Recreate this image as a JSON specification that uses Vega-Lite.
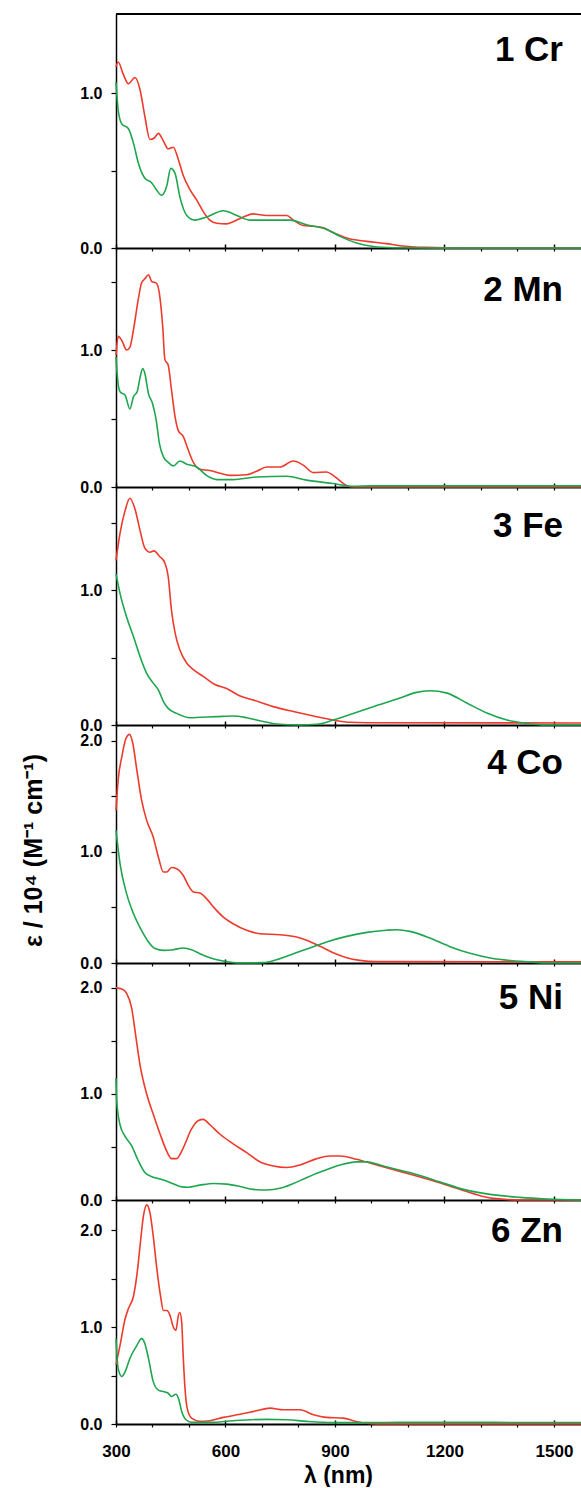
{
  "$schema": "https://vega.github.io/schema/vega-lite/v6.json",
  "autosize": {"type": "pad"},
  "padding": {"left": 21, "top": 13, "right": 0, "bottom": 0},
  "spacing": 0,
  "bounds": "flush",
  "config": {
    "view": {"stroke": null},
    "font": "Liberation Sans",
    "axis": {"grid": false, "domainColor": "black", "tickColor": "black", "labelColor": "black", "titleColor": "black", "labelFont": "Liberation Sans", "titleFont": "Liberation Sans"},
    "title": {"font": "Liberation Sans", "color": "black"}
  },
  "datasets": {
    "spectra": [
      {"p":"Cr","s":"r","x":300,"y":1.17},{"p":"Cr","s":"r","x":306,"y":1.2},{"p":"Cr","s":"r","x":320,"y":1.12},{"p":"Cr","s":"r","x":334,"y":1.06},{"p":"Cr","s":"r","x":352,"y":1.1},{"p":"Cr","s":"r","x":366,"y":1.02},{"p":"Cr","s":"r","x":379,"y":0.85},{"p":"Cr","s":"r","x":393,"y":0.7},{"p":"Cr","s":"r","x":405,"y":0.71},{"p":"Cr","s":"r","x":416,"y":0.74},{"p":"Cr","s":"r","x":430,"y":0.69},{"p":"Cr","s":"r","x":443,"y":0.64},{"p":"Cr","s":"r","x":457,"y":0.65},{"p":"Cr","s":"r","x":471,"y":0.57},{"p":"Cr","s":"r","x":484,"y":0.47},{"p":"Cr","s":"r","x":503,"y":0.375},{"p":"Cr","s":"r","x":521,"y":0.31},{"p":"Cr","s":"r","x":539,"y":0.235},{"p":"Cr","s":"r","x":557,"y":0.18},{"p":"Cr","s":"r","x":576,"y":0.16},{"p":"Cr","s":"r","x":603,"y":0.156},{"p":"Cr","s":"r","x":621,"y":0.17},{"p":"Cr","s":"r","x":649,"y":0.2},{"p":"Cr","s":"r","x":676,"y":0.22},{"p":"Cr","s":"r","x":713,"y":0.21},{"p":"Cr","s":"r","x":768,"y":0.21},{"p":"Cr","s":"r","x":786,"y":0.18},{"p":"Cr","s":"r","x":813,"y":0.145},{"p":"Cr","s":"r","x":841,"y":0.14},{"p":"Cr","s":"r","x":868,"y":0.13},{"p":"Cr","s":"r","x":895,"y":0.1},{"p":"Cr","s":"r","x":932,"y":0.064},{"p":"Cr","s":"r","x":987,"y":0.043},{"p":"Cr","s":"r","x":1041,"y":0.028},{"p":"Cr","s":"r","x":1078,"y":0.015},{"p":"Cr","s":"r","x":1150,"y":0.004},{"p":"Cr","s":"r","x":1250,"y":0},{"p":"Cr","s":"r","x":1574,"y":0},
      {"p":"Cr","s":"g","x":300,"y":1.07},{"p":"Cr","s":"g","x":306,"y":0.89},{"p":"Cr","s":"g","x":316,"y":0.8},{"p":"Cr","s":"g","x":334,"y":0.77},{"p":"Cr","s":"g","x":348,"y":0.675},{"p":"Cr","s":"g","x":361,"y":0.55},{"p":"Cr","s":"g","x":379,"y":0.45},{"p":"Cr","s":"g","x":398,"y":0.42},{"p":"Cr","s":"g","x":411,"y":0.375},{"p":"Cr","s":"g","x":425,"y":0.34},{"p":"Cr","s":"g","x":439,"y":0.4},{"p":"Cr","s":"g","x":450,"y":0.514},{"p":"Cr","s":"g","x":462,"y":0.48},{"p":"Cr","s":"g","x":475,"y":0.33},{"p":"Cr","s":"g","x":494,"y":0.21},{"p":"Cr","s":"g","x":516,"y":0.18},{"p":"Cr","s":"g","x":548,"y":0.2},{"p":"Cr","s":"g","x":594,"y":0.24},{"p":"Cr","s":"g","x":631,"y":0.21},{"p":"Cr","s":"g","x":667,"y":0.18},{"p":"Cr","s":"g","x":713,"y":0.18},{"p":"Cr","s":"g","x":777,"y":0.18},{"p":"Cr","s":"g","x":822,"y":0.15},{"p":"Cr","s":"g","x":877,"y":0.12},{"p":"Cr","s":"g","x":914,"y":0.075},{"p":"Cr","s":"g","x":959,"y":0.032},{"p":"Cr","s":"g","x":1005,"y":0.01},{"p":"Cr","s":"g","x":1060,"y":0.002},{"p":"Cr","s":"g","x":1150,"y":0},{"p":"Cr","s":"g","x":1574,"y":0},

      {"p":"Mn","s":"r","x":300,"y":0.96},{"p":"Mn","s":"r","x":306,"y":1.1},{"p":"Mn","s":"r","x":316,"y":1.07},{"p":"Mn","s":"r","x":329,"y":1.0},{"p":"Mn","s":"r","x":338,"y":1.02},{"p":"Mn","s":"r","x":348,"y":1.15},{"p":"Mn","s":"r","x":361,"y":1.37},{"p":"Mn","s":"r","x":370,"y":1.49},{"p":"Mn","s":"r","x":379,"y":1.52},{"p":"Mn","s":"r","x":389,"y":1.55},{"p":"Mn","s":"r","x":398,"y":1.5},{"p":"Mn","s":"r","x":410,"y":1.49},{"p":"Mn","s":"r","x":419,"y":1.41},{"p":"Mn","s":"r","x":428,"y":1.17},{"p":"Mn","s":"r","x":434,"y":0.93},{"p":"Mn","s":"r","x":443,"y":0.89},{"p":"Mn","s":"r","x":452,"y":0.71},{"p":"Mn","s":"r","x":462,"y":0.51},{"p":"Mn","s":"r","x":471,"y":0.41},{"p":"Mn","s":"r","x":484,"y":0.37},{"p":"Mn","s":"r","x":498,"y":0.27},{"p":"Mn","s":"r","x":512,"y":0.18},{"p":"Mn","s":"r","x":530,"y":0.13},{"p":"Mn","s":"r","x":557,"y":0.12},{"p":"Mn","s":"r","x":585,"y":0.1},{"p":"Mn","s":"r","x":612,"y":0.085},{"p":"Mn","s":"r","x":658,"y":0.09},{"p":"Mn","s":"r","x":685,"y":0.115},{"p":"Mn","s":"r","x":713,"y":0.146},{"p":"Mn","s":"r","x":749,"y":0.146},{"p":"Mn","s":"r","x":786,"y":0.19},{"p":"Mn","s":"r","x":813,"y":0.16},{"p":"Mn","s":"r","x":841,"y":0.105},{"p":"Mn","s":"r","x":877,"y":0.11},{"p":"Mn","s":"r","x":895,"y":0.085},{"p":"Mn","s":"r","x":914,"y":0.044},{"p":"Mn","s":"r","x":936,"y":0.005},{"p":"Mn","s":"r","x":950,"y":0},{"p":"Mn","s":"r","x":1574,"y":0},
      {"p":"Mn","s":"g","x":300,"y":0.95},{"p":"Mn","s":"g","x":303,"y":0.83},{"p":"Mn","s":"g","x":311,"y":0.695},{"p":"Mn","s":"g","x":325,"y":0.67},{"p":"Mn","s":"g","x":338,"y":0.57},{"p":"Mn","s":"g","x":348,"y":0.66},{"p":"Mn","s":"g","x":358,"y":0.695},{"p":"Mn","s":"g","x":366,"y":0.8},{"p":"Mn","s":"g","x":373,"y":0.865},{"p":"Mn","s":"g","x":379,"y":0.83},{"p":"Mn","s":"g","x":389,"y":0.68},{"p":"Mn","s":"g","x":400,"y":0.61},{"p":"Mn","s":"g","x":410,"y":0.49},{"p":"Mn","s":"g","x":419,"y":0.317},{"p":"Mn","s":"g","x":430,"y":0.22},{"p":"Mn","s":"g","x":443,"y":0.18},{"p":"Mn","s":"g","x":457,"y":0.154},{"p":"Mn","s":"g","x":475,"y":0.19},{"p":"Mn","s":"g","x":494,"y":0.166},{"p":"Mn","s":"g","x":521,"y":0.146},{"p":"Mn","s":"g","x":548,"y":0.085},{"p":"Mn","s":"g","x":576,"y":0.054},{"p":"Mn","s":"g","x":621,"y":0.054},{"p":"Mn","s":"g","x":685,"y":0.073},{"p":"Mn","s":"g","x":768,"y":0.078},{"p":"Mn","s":"g","x":822,"y":0.05},{"p":"Mn","s":"g","x":895,"y":0.025},{"p":"Mn","s":"g","x":950,"y":0.005},{"p":"Mn","s":"g","x":1000,"y":0.008},{"p":"Mn","s":"g","x":1574,"y":0.008},

      {"p":"Fe","s":"r","x":300,"y":1.22},{"p":"Fe","s":"r","x":311,"y":1.42},{"p":"Fe","s":"r","x":325,"y":1.59},{"p":"Fe","s":"r","x":338,"y":1.68},{"p":"Fe","s":"r","x":352,"y":1.6},{"p":"Fe","s":"r","x":366,"y":1.44},{"p":"Fe","s":"r","x":379,"y":1.31},{"p":"Fe","s":"r","x":393,"y":1.28},{"p":"Fe","s":"r","x":404,"y":1.29},{"p":"Fe","s":"r","x":419,"y":1.25},{"p":"Fe","s":"r","x":434,"y":1.2},{"p":"Fe","s":"r","x":443,"y":1.1},{"p":"Fe","s":"r","x":452,"y":0.85},{"p":"Fe","s":"r","x":462,"y":0.68},{"p":"Fe","s":"r","x":475,"y":0.555},{"p":"Fe","s":"r","x":494,"y":0.457},{"p":"Fe","s":"r","x":512,"y":0.41},{"p":"Fe","s":"r","x":539,"y":0.36},{"p":"Fe","s":"r","x":571,"y":0.3},{"p":"Fe","s":"r","x":603,"y":0.27},{"p":"Fe","s":"r","x":640,"y":0.215},{"p":"Fe","s":"r","x":676,"y":0.185},{"p":"Fe","s":"r","x":731,"y":0.136},{"p":"Fe","s":"r","x":786,"y":0.1},{"p":"Fe","s":"r","x":841,"y":0.067},{"p":"Fe","s":"r","x":895,"y":0.037},{"p":"Fe","s":"r","x":941,"y":0.02},{"p":"Fe","s":"r","x":987,"y":0.017},{"p":"Fe","s":"r","x":1574,"y":0.015},
      {"p":"Fe","s":"g","x":300,"y":1.12},{"p":"Fe","s":"g","x":311,"y":0.975},{"p":"Fe","s":"g","x":329,"y":0.8},{"p":"Fe","s":"g","x":348,"y":0.654},{"p":"Fe","s":"g","x":366,"y":0.506},{"p":"Fe","s":"g","x":384,"y":0.383},{"p":"Fe","s":"g","x":402,"y":0.31},{"p":"Fe","s":"g","x":416,"y":0.26},{"p":"Fe","s":"g","x":430,"y":0.173},{"p":"Fe","s":"g","x":443,"y":0.123},{"p":"Fe","s":"g","x":466,"y":0.086},{"p":"Fe","s":"g","x":503,"y":0.054},{"p":"Fe","s":"g","x":530,"y":0.057},{"p":"Fe","s":"g","x":576,"y":0.062},{"p":"Fe","s":"g","x":621,"y":0.067},{"p":"Fe","s":"g","x":658,"y":0.054},{"p":"Fe","s":"g","x":694,"y":0.032},{"p":"Fe","s":"g","x":740,"y":0.007},{"p":"Fe","s":"g","x":804,"y":0},{"p":"Fe","s":"g","x":850,"y":0.005},{"p":"Fe","s":"g","x":895,"y":0.037},{"p":"Fe","s":"g","x":950,"y":0.086},{"p":"Fe","s":"g","x":1005,"y":0.136},{"p":"Fe","s":"g","x":1078,"y":0.2},{"p":"Fe","s":"g","x":1120,"y":0.24},{"p":"Fe","s":"g","x":1160,"y":0.254},{"p":"Fe","s":"g","x":1207,"y":0.236},{"p":"Fe","s":"g","x":1261,"y":0.163},{"p":"Fe","s":"g","x":1316,"y":0.089},{"p":"Fe","s":"g","x":1371,"y":0.037},{"p":"Fe","s":"g","x":1416,"y":0.015},{"p":"Fe","s":"g","x":1480,"y":0},{"p":"Fe","s":"g","x":1574,"y":0},

      {"p":"Co","s":"r","x":300,"y":1.375},{"p":"Co","s":"r","x":306,"y":1.65},{"p":"Co","s":"r","x":316,"y":1.86},{"p":"Co","s":"r","x":327,"y":2.02},{"p":"Co","s":"r","x":337,"y":2.06},{"p":"Co","s":"r","x":346,"y":1.98},{"p":"Co","s":"r","x":357,"y":1.74},{"p":"Co","s":"r","x":370,"y":1.47},{"p":"Co","s":"r","x":384,"y":1.285},{"p":"Co","s":"r","x":402,"y":1.135},{"p":"Co","s":"r","x":416,"y":0.955},{"p":"Co","s":"r","x":430,"y":0.82},{"p":"Co","s":"r","x":439,"y":0.82},{"p":"Co","s":"r","x":452,"y":0.86},{"p":"Co","s":"r","x":466,"y":0.85},{"p":"Co","s":"r","x":484,"y":0.79},{"p":"Co","s":"r","x":498,"y":0.7},{"p":"Co","s":"r","x":512,"y":0.64},{"p":"Co","s":"r","x":530,"y":0.63},{"p":"Co","s":"r","x":548,"y":0.58},{"p":"Co","s":"r","x":571,"y":0.49},{"p":"Co","s":"r","x":594,"y":0.414},{"p":"Co","s":"r","x":621,"y":0.354},{"p":"Co","s":"r","x":658,"y":0.294},{"p":"Co","s":"r","x":694,"y":0.264},{"p":"Co","s":"r","x":749,"y":0.255},{"p":"Co","s":"r","x":795,"y":0.234},{"p":"Co","s":"r","x":822,"y":0.204},{"p":"Co","s":"r","x":859,"y":0.15},{"p":"Co","s":"r","x":895,"y":0.093},{"p":"Co","s":"r","x":932,"y":0.048},{"p":"Co","s":"r","x":968,"y":0.024},{"p":"Co","s":"r","x":1014,"y":0.012},{"p":"Co","s":"r","x":1078,"y":0.012},{"p":"Co","s":"r","x":1574,"y":0.01},
      {"p":"Co","s":"g","x":300,"y":1.195},{"p":"Co","s":"g","x":311,"y":0.895},{"p":"Co","s":"g","x":329,"y":0.625},{"p":"Co","s":"g","x":348,"y":0.444},{"p":"Co","s":"g","x":370,"y":0.294},{"p":"Co","s":"g","x":389,"y":0.19},{"p":"Co","s":"g","x":407,"y":0.13},{"p":"Co","s":"g","x":430,"y":0.114},{"p":"Co","s":"g","x":457,"y":0.12},{"p":"Co","s":"g","x":484,"y":0.135},{"p":"Co","s":"g","x":507,"y":0.12},{"p":"Co","s":"g","x":530,"y":0.084},{"p":"Co","s":"g","x":557,"y":0.048},{"p":"Co","s":"g","x":594,"y":0.018},{"p":"Co","s":"g","x":640,"y":0},{"p":"Co","s":"g","x":704,"y":0.003},{"p":"Co","s":"g","x":740,"y":0.03},{"p":"Co","s":"g","x":786,"y":0.084},{"p":"Co","s":"g","x":831,"y":0.135},{"p":"Co","s":"g","x":877,"y":0.19},{"p":"Co","s":"g","x":932,"y":0.24},{"p":"Co","s":"g","x":987,"y":0.276},{"p":"Co","s":"g","x":1041,"y":0.295},{"p":"Co","s":"g","x":1070,"y":0.3},{"p":"Co","s":"g","x":1105,"y":0.285},{"p":"Co","s":"g","x":1160,"y":0.225},{"p":"Co","s":"g","x":1215,"y":0.147},{"p":"Co","s":"g","x":1270,"y":0.087},{"p":"Co","s":"g","x":1325,"y":0.045},{"p":"Co","s":"g","x":1388,"y":0.02},{"p":"Co","s":"g","x":1434,"y":0.01},{"p":"Co","s":"g","x":1480,"y":0},{"p":"Co","s":"g","x":1574,"y":0},

      {"p":"Ni","s":"r","x":300,"y":2.0},{"p":"Ni","s":"r","x":316,"y":1.99},{"p":"Ni","s":"r","x":329,"y":1.95},{"p":"Ni","s":"r","x":343,"y":1.81},{"p":"Ni","s":"r","x":352,"y":1.6},{"p":"Ni","s":"r","x":366,"y":1.27},{"p":"Ni","s":"r","x":384,"y":1.0},{"p":"Ni","s":"r","x":402,"y":0.81},{"p":"Ni","s":"r","x":421,"y":0.62},{"p":"Ni","s":"r","x":439,"y":0.46},{"p":"Ni","s":"r","x":452,"y":0.39},{"p":"Ni","s":"r","x":466,"y":0.39},{"p":"Ni","s":"r","x":484,"y":0.49},{"p":"Ni","s":"r","x":507,"y":0.67},{"p":"Ni","s":"r","x":526,"y":0.75},{"p":"Ni","s":"r","x":539,"y":0.76},{"p":"Ni","s":"r","x":557,"y":0.71},{"p":"Ni","s":"r","x":585,"y":0.62},{"p":"Ni","s":"r","x":621,"y":0.53},{"p":"Ni","s":"r","x":658,"y":0.447},{"p":"Ni","s":"r","x":694,"y":0.36},{"p":"Ni","s":"r","x":731,"y":0.32},{"p":"Ni","s":"r","x":768,"y":0.306},{"p":"Ni","s":"r","x":804,"y":0.33},{"p":"Ni","s":"r","x":850,"y":0.39},{"p":"Ni","s":"r","x":886,"y":0.415},{"p":"Ni","s":"r","x":914,"y":0.415},{"p":"Ni","s":"r","x":959,"y":0.384},{"p":"Ni","s":"r","x":1014,"y":0.33},{"p":"Ni","s":"r","x":1078,"y":0.27},{"p":"Ni","s":"r","x":1114,"y":0.235},{"p":"Ni","s":"r","x":1207,"y":0.14},{"p":"Ni","s":"r","x":1279,"y":0.06},{"p":"Ni","s":"r","x":1334,"y":0.015},{"p":"Ni","s":"r","x":1407,"y":0},{"p":"Ni","s":"r","x":1574,"y":0},
      {"p":"Ni","s":"g","x":300,"y":1.15},{"p":"Ni","s":"g","x":302,"y":0.93},{"p":"Ni","s":"g","x":311,"y":0.71},{"p":"Ni","s":"g","x":325,"y":0.6},{"p":"Ni","s":"g","x":343,"y":0.51},{"p":"Ni","s":"g","x":361,"y":0.37},{"p":"Ni","s":"g","x":379,"y":0.26},{"p":"Ni","s":"g","x":398,"y":0.22},{"p":"Ni","s":"g","x":421,"y":0.197},{"p":"Ni","s":"g","x":448,"y":0.166},{"p":"Ni","s":"g","x":475,"y":0.128},{"p":"Ni","s":"g","x":498,"y":0.12},{"p":"Ni","s":"g","x":530,"y":0.14},{"p":"Ni","s":"g","x":567,"y":0.156},{"p":"Ni","s":"g","x":603,"y":0.15},{"p":"Ni","s":"g","x":640,"y":0.128},{"p":"Ni","s":"g","x":676,"y":0.1},{"p":"Ni","s":"g","x":713,"y":0.094},{"p":"Ni","s":"g","x":749,"y":0.11},{"p":"Ni","s":"g","x":786,"y":0.156},{"p":"Ni","s":"g","x":822,"y":0.21},{"p":"Ni","s":"g","x":868,"y":0.275},{"p":"Ni","s":"g","x":914,"y":0.33},{"p":"Ni","s":"g","x":959,"y":0.36},{"p":"Ni","s":"g","x":987,"y":0.36},{"p":"Ni","s":"g","x":1032,"y":0.32},{"p":"Ni","s":"g","x":1078,"y":0.28},{"p":"Ni","s":"g","x":1114,"y":0.25},{"p":"Ni","s":"g","x":1188,"y":0.17},{"p":"Ni","s":"g","x":1252,"y":0.1},{"p":"Ni","s":"g","x":1325,"y":0.053},{"p":"Ni","s":"g","x":1407,"y":0.025},{"p":"Ni","s":"g","x":1480,"y":0.01},{"p":"Ni","s":"g","x":1574,"y":0},

      {"p":"Zn","s":"r","x":300,"y":0.61},{"p":"Zn","s":"r","x":311,"y":0.81},{"p":"Zn","s":"r","x":325,"y":1.085},{"p":"Zn","s":"r","x":334,"y":1.19},{"p":"Zn","s":"r","x":348,"y":1.32},{"p":"Zn","s":"r","x":357,"y":1.53},{"p":"Zn","s":"r","x":366,"y":1.84},{"p":"Zn","s":"r","x":375,"y":2.14},{"p":"Zn","s":"r","x":384,"y":2.26},{"p":"Zn","s":"r","x":393,"y":2.18},{"p":"Zn","s":"r","x":402,"y":1.94},{"p":"Zn","s":"r","x":411,"y":1.63},{"p":"Zn","s":"r","x":422,"y":1.32},{"p":"Zn","s":"r","x":430,"y":1.17},{"p":"Zn","s":"r","x":439,"y":1.17},{"p":"Zn","s":"r","x":448,"y":1.12},{"p":"Zn","s":"r","x":457,"y":1.0},{"p":"Zn","s":"r","x":464,"y":0.966},{"p":"Zn","s":"r","x":471,"y":1.12},{"p":"Zn","s":"r","x":475,"y":1.15},{"p":"Zn","s":"r","x":480,"y":1.05},{"p":"Zn","s":"r","x":484,"y":0.71},{"p":"Zn","s":"r","x":489,"y":0.37},{"p":"Zn","s":"r","x":495,"y":0.164},{"p":"Zn","s":"r","x":507,"y":0.06},{"p":"Zn","s":"r","x":530,"y":0.027},{"p":"Zn","s":"r","x":557,"y":0.034},{"p":"Zn","s":"r","x":594,"y":0.068},{"p":"Zn","s":"r","x":640,"y":0.1},{"p":"Zn","s":"r","x":685,"y":0.137},{"p":"Zn","s":"r","x":722,"y":0.164},{"p":"Zn","s":"r","x":758,"y":0.147},{"p":"Zn","s":"r","x":804,"y":0.147},{"p":"Zn","s":"r","x":841,"y":0.096},{"p":"Zn","s":"r","x":877,"y":0.068},{"p":"Zn","s":"r","x":923,"y":0.061},{"p":"Zn","s":"r","x":950,"y":0.034},{"p":"Zn","s":"r","x":987,"y":0.007},{"p":"Zn","s":"r","x":1014,"y":0},{"p":"Zn","s":"r","x":1574,"y":0},
      {"p":"Zn","s":"g","x":300,"y":0.88},{"p":"Zn","s":"g","x":306,"y":0.57},{"p":"Zn","s":"g","x":316,"y":0.49},{"p":"Zn","s":"g","x":325,"y":0.54},{"p":"Zn","s":"g","x":338,"y":0.676},{"p":"Zn","s":"g","x":357,"y":0.81},{"p":"Zn","s":"g","x":370,"y":0.88},{"p":"Zn","s":"g","x":379,"y":0.83},{"p":"Zn","s":"g","x":389,"y":0.676},{"p":"Zn","s":"g","x":402,"y":0.437},{"p":"Zn","s":"g","x":416,"y":0.35},{"p":"Zn","s":"g","x":430,"y":0.334},{"p":"Zn","s":"g","x":443,"y":0.317},{"p":"Zn","s":"g","x":452,"y":0.283},{"p":"Zn","s":"g","x":464,"y":0.307},{"p":"Zn","s":"g","x":471,"y":0.266},{"p":"Zn","s":"g","x":480,"y":0.13},{"p":"Zn","s":"g","x":492,"y":0.044},{"p":"Zn","s":"g","x":507,"y":0.017},{"p":"Zn","s":"g","x":557,"y":0.017},{"p":"Zn","s":"g","x":621,"y":0.034},{"p":"Zn","s":"g","x":713,"y":0.048},{"p":"Zn","s":"g","x":768,"y":0.044},{"p":"Zn","s":"g","x":822,"y":0.027},{"p":"Zn","s":"g","x":895,"y":0.014},{"p":"Zn","s":"g","x":987,"y":0.014},{"p":"Zn","s":"g","x":1078,"y":0.017},{"p":"Zn","s":"g","x":1574,"y":0.015}
    ]
  },
  "data": {"name": "spectra"},
  "vconcat": [
    {
      "width": 465, "height": 234,
      "title": {"text": "1 Cr", "orient": "top", "anchor": "end", "frame": "group", "offset": -83, "dx": -18, "baseline": "alphabetic", "fontSize": 35, "fontWeight": "bold"},
      "transform": [{"filter": "datum.p == 'Cr'"}],
      "layer": [
        {"transform": [{"filter": "datum.s == 'r'"}],
         "mark": {"type": "line", "color": "#ee3a2c", "strokeWidth": 1.6, "interpolate": "monotone"},
         "encoding": {
           "x": {"field": "x", "type": "quantitative", "scale": {"domain": [300, 1574], "nice": false, "zero": false},
                 "axis": {"orient": "bottom", "values": [300, 600, 900, 1200, 1500], "tickSize": -4, "tickWidth": 1.5, "labels": false, "title": null, "domainWidth": 2}},
           "y": {"field": "y", "type": "quantitative", "scale": {"domain": [0, 1.51], "nice": false},
                 "axis": {"orient": "left", "values": [0, 1], "format": ".1f", "tickSize": 5, "tickWidth": 1.2, "labelFontSize": 16, "labelFontWeight": "bold", "labelPadding": 9, "domainWidth": 1.5, "title": null}}
         }},
        {"transform": [{"filter": "datum.s == 'g'"}],
         "mark": {"type": "line", "color": "#1ea64f", "strokeWidth": 1.6, "interpolate": "monotone"},
         "encoding": {
           "x": {"field": "x", "type": "quantitative",
                 "axis": {"orient": "bottom", "values": [300, 400, 500, 600, 700, 800, 900, 1000, 1100, 1200, 1300, 1400, 1500], "tickSize": 3, "tickWidth": 1.2, "labels": false, "domain": false, "title": null}},
           "y": {"field": "y", "type": "quantitative",
                 "axis": {"orient": "left", "values": [0.5], "tickSize": 5, "tickWidth": 1.2, "labels": false, "domain": false, "title": null}}
         }},
        {"mark": {"type": "rule", "color": "black", "strokeWidth": 1.5},
         "encoding": {"y": {"datum": 1.51, "type": "quantitative", "axis": null}}}
      ],
      "resolve": {"axis": {"x": "independent", "y": "independent"}}
    },
    {
      "width": 465, "height": 239,
      "title": {"text": "2 Mn", "orient": "top", "anchor": "end", "frame": "group", "offset": -88, "dx": -18, "baseline": "alphabetic", "fontSize": 35, "fontWeight": "bold"},
      "transform": [{"filter": "datum.p == 'Mn'"}],
      "layer": [
        {"transform": [{"filter": "datum.s == 'r'"}],
         "mark": {"type": "line", "color": "#ee3a2c", "strokeWidth": 1.6, "interpolate": "monotone"},
         "encoding": {
           "x": {"field": "x", "type": "quantitative", "scale": {"domain": [300, 1574], "nice": false, "zero": false},
                 "axis": {"orient": "bottom", "values": [300, 600, 900, 1200, 1500], "tickSize": -4, "tickWidth": 1.5, "labels": false, "title": null, "domainWidth": 2}},
           "y": {"field": "y", "type": "quantitative", "scale": {"domain": [0, 1.745], "nice": false},
                 "axis": {"orient": "left", "values": [0, 1], "format": ".1f", "tickSize": 5, "tickWidth": 1.2, "labelFontSize": 16, "labelFontWeight": "bold", "labelPadding": 9, "domainWidth": 1.5, "title": null}}
         }},
        {"transform": [{"filter": "datum.s == 'g'"}],
         "mark": {"type": "line", "color": "#1ea64f", "strokeWidth": 1.6, "interpolate": "monotone"},
         "encoding": {
           "x": {"field": "x", "type": "quantitative",
                 "axis": {"orient": "bottom", "values": [300, 400, 500, 600, 700, 800, 900, 1000, 1100, 1200, 1300, 1400, 1500], "tickSize": 3, "tickWidth": 1.2, "labels": false, "domain": false, "title": null}},
           "y": {"field": "y", "type": "quantitative",
                 "axis": {"orient": "left", "values": [0.5, 1.5], "tickSize": 5, "tickWidth": 1.2, "labels": false, "domain": false, "title": null}}
         }}
      ],
      "resolve": {"axis": {"x": "independent", "y": "independent"}}
    },
    {
      "width": 465, "height": 238,
      "title": {"text": "3 Fe", "orient": "top", "anchor": "end", "frame": "group", "offset": -85, "dx": -18, "baseline": "alphabetic", "fontSize": 35, "fontWeight": "bold"},
      "transform": [{"filter": "datum.p == 'Fe'"}],
      "layer": [
        {"transform": [{"filter": "datum.s == 'r'"}],
         "mark": {"type": "line", "color": "#ee3a2c", "strokeWidth": 1.6, "interpolate": "monotone"},
         "encoding": {
           "x": {"field": "x", "type": "quantitative", "scale": {"domain": [300, 1574], "nice": false, "zero": false},
                 "axis": {"orient": "bottom", "values": [300, 600, 900, 1200, 1500], "tickSize": -4, "tickWidth": 1.5, "labels": false, "title": null, "domainWidth": 2}},
           "y": {"field": "y", "type": "quantitative", "scale": {"domain": [0, 1.763], "nice": false},
                 "axis": {"orient": "left", "values": [0, 1], "format": ".1f", "tickSize": 5, "tickWidth": 1.2, "labelFontSize": 16, "labelFontWeight": "bold", "labelPadding": 9, "domainWidth": 1.5, "title": null}}
         }},
        {"transform": [{"filter": "datum.s == 'g'"}],
         "mark": {"type": "line", "color": "#1ea64f", "strokeWidth": 1.6, "interpolate": "monotone"},
         "encoding": {
           "x": {"field": "x", "type": "quantitative",
                 "axis": {"orient": "bottom", "values": [300, 400, 500, 600, 700, 800, 900, 1000, 1100, 1200, 1300, 1400, 1500], "tickSize": 3, "tickWidth": 1.2, "labels": false, "domain": false, "title": null}},
           "y": {"field": "y", "type": "quantitative",
                 "axis": {"orient": "left", "values": [0.5, 1.5], "tickSize": 5, "tickWidth": 1.2, "labels": false, "domain": false, "title": null}}
         }}
      ],
      "resolve": {"axis": {"x": "independent", "y": "independent"}}
    },
    {
      "width": 465, "height": 238,
      "title": {"text": "4 Co", "orient": "top", "anchor": "end", "frame": "group", "offset": -84, "dx": -18, "baseline": "alphabetic", "fontSize": 35, "fontWeight": "bold"},
      "transform": [{"filter": "datum.p == 'Co'"}],
      "layer": [
        {"transform": [{"filter": "datum.s == 'r'"}],
         "mark": {"type": "line", "color": "#ee3a2c", "strokeWidth": 1.6, "interpolate": "monotone"},
         "encoding": {
           "x": {"field": "x", "type": "quantitative", "scale": {"domain": [300, 1574], "nice": false, "zero": false},
                 "axis": {"orient": "bottom", "values": [300, 600, 900, 1200, 1500], "tickSize": -4, "tickWidth": 1.5, "labels": false, "title": null, "domainWidth": 2}},
           "y": {"field": "y", "type": "quantitative", "scale": {"domain": [0, 2.144], "nice": false},
                 "axis": {"orient": "left", "values": [0, 1, 2], "format": ".1f", "tickSize": 5, "tickWidth": 1.2, "labelFontSize": 16, "labelFontWeight": "bold", "labelPadding": 9, "domainWidth": 1.5,
                          "title": "ε / 10⁴   (M⁻¹ cm⁻¹)", "titleFontSize": 25, "titleFontWeight": "bold", "titleX": -75, "titleY": 125, "titleAngle": 270, "titleBaseline": "alphabetic", "titleAlign": "center"}}
         }},
        {"transform": [{"filter": "datum.s == 'g'"}],
         "mark": {"type": "line", "color": "#1ea64f", "strokeWidth": 1.6, "interpolate": "monotone"},
         "encoding": {
           "x": {"field": "x", "type": "quantitative",
                 "axis": {"orient": "bottom", "values": [300, 400, 500, 600, 700, 800, 900, 1000, 1100, 1200, 1300, 1400, 1500], "tickSize": 3, "tickWidth": 1.2, "labels": false, "domain": false, "title": null}},
           "y": {"field": "y", "type": "quantitative",
                 "axis": {"orient": "left", "values": [0.5, 1.5], "tickSize": 5, "tickWidth": 1.2, "labels": false, "domain": false, "title": null}}
         }}
      ],
      "resolve": {"axis": {"x": "independent", "y": "independent"}}
    },
    {
      "width": 465, "height": 237,
      "title": {"text": "5 Ni", "orient": "top", "anchor": "end", "frame": "group", "offset": -81, "dx": -18, "baseline": "alphabetic", "fontSize": 35, "fontWeight": "bold"},
      "transform": [{"filter": "datum.p == 'Ni'"}],
      "layer": [
        {"transform": [{"filter": "datum.s == 'r'"}],
         "mark": {"type": "line", "color": "#ee3a2c", "strokeWidth": 1.6, "interpolate": "monotone"},
         "encoding": {
           "x": {"field": "x", "type": "quantitative", "scale": {"domain": [300, 1574], "nice": false, "zero": false},
                 "axis": {"orient": "bottom", "values": [300, 600, 900, 1200, 1500], "tickSize": -4, "tickWidth": 1.5, "labels": false, "title": null, "domainWidth": 2}},
           "y": {"field": "y", "type": "quantitative", "scale": {"domain": [0, 2.235], "nice": false},
                 "axis": {"orient": "left", "values": [0, 1, 2], "format": ".1f", "tickSize": 5, "tickWidth": 1.2, "labelFontSize": 16, "labelFontWeight": "bold", "labelPadding": 9, "domainWidth": 1.5, "title": null}}
         }},
        {"transform": [{"filter": "datum.s == 'g'"}],
         "mark": {"type": "line", "color": "#1ea64f", "strokeWidth": 1.6, "interpolate": "monotone"},
         "encoding": {
           "x": {"field": "x", "type": "quantitative",
                 "axis": {"orient": "bottom", "values": [300, 400, 500, 600, 700, 800, 900, 1000, 1100, 1200, 1300, 1400, 1500], "tickSize": 3, "tickWidth": 1.2, "labels": false, "domain": false, "title": null}},
           "y": {"field": "y", "type": "quantitative",
                 "axis": {"orient": "left", "values": [0.5, 1.5], "tickSize": 5, "tickWidth": 1.2, "labels": false, "domain": false, "title": null}}
         }}
      ],
      "resolve": {"axis": {"x": "independent", "y": "independent"}}
    },
    {
      "width": 465, "height": 224,
      "title": {"text": "6 Zn", "orient": "top", "anchor": "end", "frame": "group", "offset": -77, "dx": -18, "baseline": "alphabetic", "fontSize": 35, "fontWeight": "bold"},
      "transform": [{"filter": "datum.p == 'Zn'"}],
      "layer": [
        {"transform": [{"filter": "datum.s == 'r'"}],
         "mark": {"type": "line", "color": "#ee3a2c", "strokeWidth": 1.6, "interpolate": "monotone"},
         "encoding": {
           "x": {"field": "x", "type": "quantitative", "scale": {"domain": [300, 1574], "nice": false, "zero": false},
                 "axis": {"orient": "bottom", "values": [300, 600, 900, 1200, 1500], "tickSize": -4, "tickWidth": 1.5, "labels": false, "title": null, "domainWidth": 2}},
           "y": {"field": "y", "type": "quantitative", "scale": {"domain": [0, 2.31], "nice": false},
                 "axis": {"orient": "left", "values": [0, 1, 2], "format": ".1f", "tickSize": 5, "tickWidth": 1.2, "labelFontSize": 16, "labelFontWeight": "bold", "labelPadding": 9, "domainWidth": 1.5, "title": null}}
         }},
        {"transform": [{"filter": "datum.s == 'g'"}],
         "mark": {"type": "line", "color": "#1ea64f", "strokeWidth": 1.6, "interpolate": "monotone"},
         "encoding": {
           "x": {"field": "x", "type": "quantitative",
                 "axis": {"orient": "bottom", "values": [300, 400, 500, 600, 700, 800, 900, 1000, 1100, 1200, 1300, 1400, 1500], "tickSize": 3, "tickWidth": 1.2, "domain": false, "format": "d",
                          "labelExpr": "datum.value % 300 == 0 ? datum.label : ''", "labelFontSize": 17, "labelFontWeight": "bold", "labelPadding": 29, "labelBaseline": "alphabetic", "labelFlush": false, "labelOverlap": false,
                          "title": "λ (nm)", "titleFontSize": 23, "titleFontWeight": "bold", "titleX": 222, "titleY": 58, "titleBaseline": "alphabetic", "titleAlign": "center"}},
           "y": {"field": "y", "type": "quantitative",
                 "axis": {"orient": "left", "values": [0.5, 1.5], "tickSize": 5, "tickWidth": 1.2, "labels": false, "domain": false, "title": null}}
         }}
      ],
      "resolve": {"axis": {"x": "independent", "y": "independent"}}
    }
  ]
}
